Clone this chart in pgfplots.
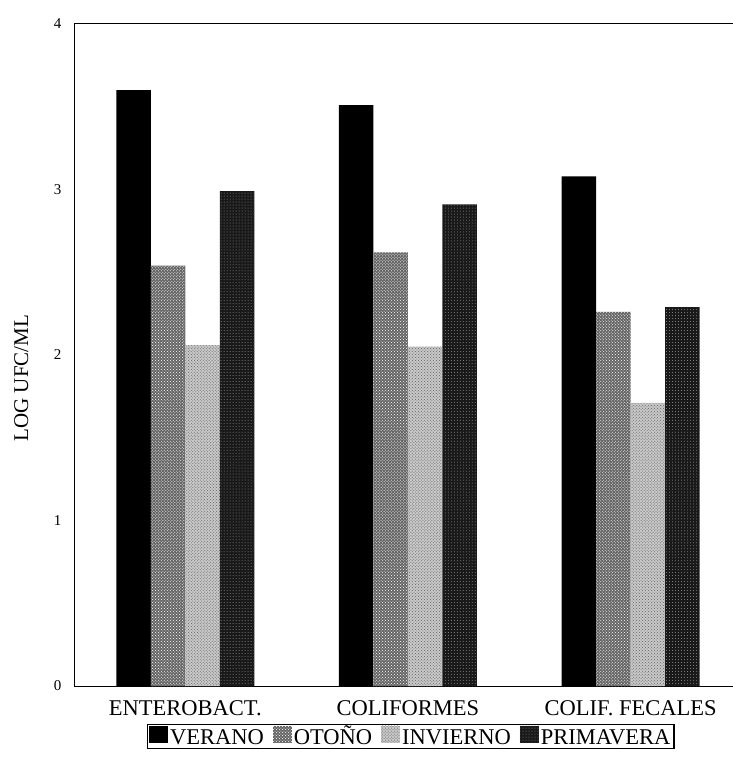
\documentclass[border=0pt]{standalone}
\usepackage{fontspec}
\setmainfont{Liberation Serif}
\usepackage{pgfplots}
\pgfplotsset{compat=1.18}
\usetikzlibrary{patterns}
\begin{document}
\begin{tikzpicture}
\path[use as bounding box] (0,0) rectangle (733bp,764bp);
\begin{axis}[
  at={(74bp,78bp)}, anchor=south west,
  scale only axis, width=659bp, height=662bp,
  axis lines*=left,
  ybar=0pt, bar width=34.5bp,
  xmin=-0.5, xmax=2.46, ymin=0, ymax=4,
  xtick={0,1,2},
  xticklabels={ENTEROBACT., COLIFORMES, COLIF. FECALES},
  ytick={0,1,2,3,4},
  x tick label style={font=\fontsize{22.5bp}{25bp}\selectfont, yshift=-7bp},
  y tick label style={font=\fontsize{15bp}{17bp}\selectfont, xshift=-9bp},
  /pgf/number format/assume math mode=true,
  xtick style={draw=none},
  ytick style={draw=none},
  ylabel={LOG UFC/ML},
  every axis y label/.style={at={(rel axis cs:-0.080,0.465)}, rotate=90, anchor=center,
    font=\fontsize{21bp}{23bp}\selectfont},
  legend columns=4,
  legend style={at={(0.511,-0.057)}, anchor=north, draw=black, line width=1.2pt,
    font=\fontsize{22.5bp}{25bp}\selectfont, inner sep=1.5bp,
    nodes={text height=16bp, text depth=1bp},
    /tikz/every even column/.append style={column sep=7bp}},
  legend image code/.code={\path[#1] (-2bp,-6bp) rectangle (17bp,11bp);},
  every axis legend/.append style={legend cell align=left},
  axis line style={line width=1pt},
]
\addplot[fill=black, draw=none] coordinates {(0,3.60) (1,3.51) (2,3.08)};
\addplot[fill=black!60, draw=none, postaction={pattern=crosshatch dots, pattern color=white}] coordinates {(0,2.54) (1,2.62) (2,2.26)};
\addplot[fill=black!22, draw=none, postaction={pattern=crosshatch dots, pattern color=black!60}] coordinates {(0,2.06) (1,2.05) (2,1.71)};
\addplot[fill=black!90, draw=none, postaction={pattern=dots, pattern color=black!45}] coordinates {(0,2.99) (1,2.91) (2,2.29)};
\legend{VERANO, OTOÑO, INVIERNO, PRIMAVERA}
\draw[line width=1pt] (rel axis cs:0,1) -- (rel axis cs:1,1);
\end{axis}
\end{tikzpicture}
\end{document}
